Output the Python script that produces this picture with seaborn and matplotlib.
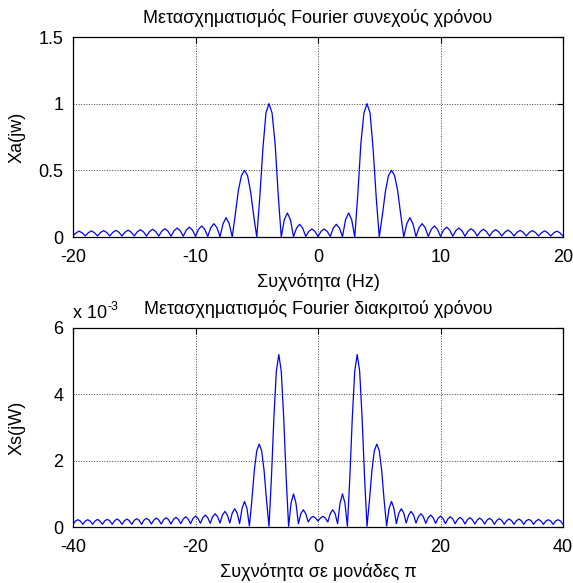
import numpy as np
import pandas as pd
import seaborn as sns
import matplotlib
matplotlib.use("Agg")
import matplotlib.pyplot as plt

# ========== DATA ==========
# top: |Xa(jw)|, sampled every 0.25 Hz from -20 to 20 (one row per 1 Hz)
f_top = np.linspace(-20, 20, 161)
xa_mag = [
    0.008, 0.031, 0.044, 0.031,   # -20
    0.008, 0.032, 0.046, 0.032,   # -19
    0.008, 0.034, 0.048, 0.034,   # -18
    0.008, 0.035, 0.050, 0.035,   # -17
    0.008, 0.036, 0.052, 0.036,   # -16
    0.008, 0.039, 0.055, 0.039,   # -15
    0.007, 0.041, 0.058, 0.041,   # -14
    0.007, 0.044, 0.062, 0.044,   # -13
    0.006, 0.047, 0.067, 0.047,   # -12
    0.006, 0.052, 0.074, 0.052,   # -11
    0.005, 0.058, 0.083, 0.058,   # -10
    0.004, 0.070, 0.100, 0.070,   # -9
    0.003, 0.100, 0.145, 0.100,   # -8
    0.000, 0.170, 0.350, 0.460,   # -7
    0.500, 0.460, 0.340, 0.160,   # -6
    0.000, 0.300, 0.660, 0.930,   # -5
    1.000, 0.930, 0.700, 0.320,   # -4
    0.000, 0.130, 0.180, 0.130,   # -3
    0.003, 0.067, 0.095, 0.067,   # -2
    0.004, 0.042, 0.060, 0.042,   # -1
    0.004, 0.042, 0.060, 0.042,   # 0
    0.004, 0.067, 0.095, 0.067,   # 1
    0.003, 0.130, 0.180, 0.130,   # 2
    0.000, 0.320, 0.700, 0.930,   # 3
    1.000, 0.930, 0.660, 0.300,   # 4
    0.000, 0.160, 0.340, 0.460,   # 5
    0.500, 0.460, 0.350, 0.170,   # 6
    0.000, 0.100, 0.145, 0.100,   # 7
    0.003, 0.070, 0.100, 0.070,   # 8
    0.004, 0.058, 0.083, 0.058,   # 9
    0.005, 0.052, 0.074, 0.052,   # 10
    0.006, 0.047, 0.067, 0.047,   # 11
    0.006, 0.044, 0.062, 0.044,   # 12
    0.007, 0.041, 0.058, 0.041,   # 13
    0.007, 0.039, 0.055, 0.039,   # 14
    0.008, 0.036, 0.052, 0.036,   # 15
    0.008, 0.035, 0.050, 0.035,   # 16
    0.008, 0.034, 0.048, 0.034,   # 17
    0.008, 0.032, 0.046, 0.032,   # 18
    0.008, 0.031, 0.044, 0.031,   # 19
    0.008,                        # 20
]

# bottom: |Xs(jW)| in units of 1e-3, sampled every 0.4 from -40 to 40 (one row per 1.6)
f_bot = np.linspace(-40, 40, 201)
xs_mag_e3 = [
    0.08, 0.18, 0.22, 0.18,   # -40.0
    0.08, 0.18, 0.22, 0.18,   # -38.4
    0.08, 0.18, 0.23, 0.18,   # -36.8
    0.08, 0.19, 0.23, 0.19,   # -35.2
    0.08, 0.19, 0.24, 0.19,   # -33.6
    0.08, 0.19, 0.24, 0.19,   # -32.0
    0.08, 0.20, 0.25, 0.20,   # -30.4
    0.08, 0.21, 0.26, 0.21,   # -28.8
    0.09, 0.21, 0.27, 0.21,   # -27.2
    0.09, 0.22, 0.28, 0.22,   # -25.6
    0.09, 0.23, 0.29, 0.23,   # -24.0
    0.10, 0.24, 0.31, 0.24,   # -22.4
    0.10, 0.26, 0.33, 0.26,   # -20.8
    0.11, 0.28, 0.36, 0.28,   # -19.2
    0.11, 0.31, 0.40, 0.31,   # -17.6
    0.12, 0.36, 0.47, 0.36,   # -16.0
    0.12, 0.42, 0.55, 0.42,   # -14.4
    0.10, 0.56, 0.77, 0.56,   # -12.8
    0.03, 0.80, 1.70, 2.30,   # -11.2
    2.50, 2.30, 1.70, 0.80,   # -9.6
    0.02, 1.50, 3.30, 4.70,   # -8.0
    5.20, 4.70, 3.30, 1.50,   # -6.4
    0.02, 0.72, 1.00, 0.72,   # -4.8
    0.10, 0.40, 0.52, 0.40,   # -3.2
    0.15, 0.27, 0.32, 0.27,   # -1.6
    0.18, 0.27, 0.32, 0.27,   # 0.0
    0.15, 0.40, 0.52, 0.40,   # 1.6
    0.10, 0.72, 1.00, 0.72,   # 3.2
    0.02, 1.50, 3.30, 4.70,   # 4.8
    5.20, 4.70, 3.30, 1.50,   # 6.4
    0.02, 0.80, 1.70, 2.30,   # 8.0
    2.50, 2.30, 1.70, 0.80,   # 9.6
    0.03, 0.56, 0.77, 0.56,   # 11.2
    0.10, 0.42, 0.55, 0.42,   # 12.8
    0.12, 0.36, 0.47, 0.36,   # 14.4
    0.12, 0.31, 0.40, 0.31,   # 16.0
    0.11, 0.28, 0.36, 0.28,   # 17.6
    0.11, 0.26, 0.33, 0.26,   # 19.2
    0.10, 0.24, 0.31, 0.24,   # 20.8
    0.10, 0.23, 0.29, 0.23,   # 22.4
    0.09, 0.22, 0.28, 0.22,   # 24.0
    0.09, 0.21, 0.27, 0.21,   # 25.6
    0.09, 0.21, 0.26, 0.21,   # 27.2
    0.08, 0.20, 0.25, 0.20,   # 28.8
    0.08, 0.19, 0.24, 0.19,   # 30.4
    0.08, 0.19, 0.24, 0.19,   # 32.0
    0.08, 0.19, 0.23, 0.19,   # 33.6
    0.08, 0.18, 0.23, 0.18,   # 35.2
    0.08, 0.18, 0.22, 0.18,   # 36.8
    0.08, 0.18, 0.22, 0.18,   # 38.4
    0.08,                     # 40.0
]

top_xticks = [-20, -10, 0, 10, 20]
top_yticks = [0, 0.5, 1, 1.5]
top_yticklabels = ['0', '0.5', '1', '1.5']
bot_xticks = [-40, -20, 0, 20, 40]
bot_yticks = [0, 2, 4, 6]

title_top = 'Μετασχηματισμός Fourier συνεχούς χρόνου'
title_bot = 'Μετασχηματισμός Fourier διακριτού χρόνου'
xlabel_top = 'Συχνότητα (Hz)'
xlabel_bot = 'Συχνότητα σε μονάδες π'
ylabel_top = 'Xa(jw)'
ylabel_bot = 'Xs(jW)'

# ========== STYLE ==========
sns.set_style('white')
plt.rcParams['font.family'] = ['Liberation Sans', 'DejaVu Sans']
plt.rcParams['axes.unicode_minus'] = False
for key in ['text.color', 'axes.labelcolor', 'xtick.color', 'ytick.color']:
    plt.rcParams[key] = 'black'
FS = 13

df_top = pd.DataFrame({'f': f_top, 'mag': xa_mag})
df_bot = pd.DataFrame({'f': f_bot, 'mag': xs_mag_e3})

fig = plt.figure(figsize=(5.73, 5.83), dpi=100)
ax1 = fig.add_axes([73 / 573, 1 - 237 / 583, 490 / 573, 200 / 583])
ax2 = fig.add_axes([73 / 573, 1 - 527 / 583, 490 / 573, 199 / 583])


def style_axes(ax, xticks, yticks, xlim, ylim):
    ax.set_xlim(*xlim)
    ax.set_ylim(*ylim)
    ax.set_xticks(xticks)
    ax.set_yticks(yticks)
    ax.grid(True, color='0.25', linestyle=':', linewidth=0.7)
    ax.set_axisbelow(True)
    ax.tick_params(direction='in', top=True, right=True, length=4,
                   width=0.8, labelsize=FS)
    ax.tick_params(axis='x', pad=9)
    ax.tick_params(axis='y', pad=7)
    for sp in ax.spines.values():
        sp.set_visible(True)
        sp.set_color('black')
        sp.set_linewidth(0.9)


sns.lineplot(data=df_top, x='f', y='mag', ax=ax1, color='#0000ff',
             linewidth=0.9, estimator=None)
style_axes(ax1, top_xticks, top_yticks, (-20, 20), (0, 1.5))
ax1.set_yticklabels(top_yticklabels)
ax1.set_title(title_top, fontsize=FS, pad=10)
ax1.set_xlabel(xlabel_top, fontsize=FS, labelpad=5)
ax1.set_ylabel(ylabel_top, fontsize=FS)
ax1.yaxis.set_label_coords(-0.097, 0.5)

sns.lineplot(data=df_bot, x='f', y='mag', ax=ax2, color='#0000ff',
             linewidth=0.9, estimator=None)
style_axes(ax2, bot_xticks, bot_yticks, (-40, 40), (0, 6))
ax2.set_title(title_bot, fontsize=FS, pad=10)
ax2.set_xlabel(xlabel_bot, fontsize=FS, labelpad=5)
ax2.set_ylabel(ylabel_bot, fontsize=FS)
ax2.yaxis.set_label_coords(-0.097, 0.5)

# MATLAB-style exponent label
ax2.text(0.0, 1.052, 'x 10', transform=ax2.transAxes, fontsize=FS,
         ha='left', va='baseline')
ax2.text(0.0714, 1.09, '-3', transform=ax2.transAxes, fontsize=FS - 4,
         ha='left', va='baseline')

fig.savefig('out.png', dpi=100)
